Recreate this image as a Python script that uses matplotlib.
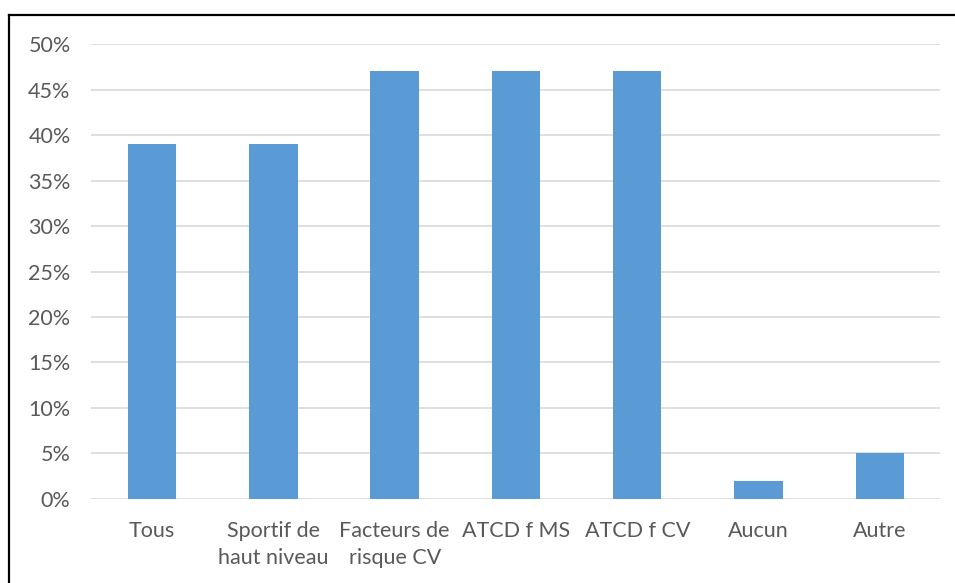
import matplotlib
matplotlib.use("Agg")
import matplotlib.pyplot as plt
from matplotlib.lines import Line2D
from matplotlib.ticker import MultipleLocator, FuncFormatter

# values (percent)
categories = ["Tous", "Sportif de\nhaut niveau", "Facteurs de\nrisque CV",
              "ATCD f MS", "ATCD f CV", "Aucun", "Autre"]
values = [39, 39, 47, 47, 47, 2, 5]

plt.rcParams['font.family'] = ['Lato', 'DejaVu Sans']

fig = plt.figure(figsize=(9.55, 5.83), dpi=100)
ax = fig.add_axes([0.0957, 0.1441, 0.8891, 0.7804])

x = range(len(categories))
ax.bar(x, values, width=0.4, color="#5B9BD5", zorder=3)

ax.set_xlim(-0.5, len(categories) - 0.5)
ax.set_ylim(0, 50)
ax.yaxis.set_major_locator(MultipleLocator(5))
ax.yaxis.set_major_formatter(FuncFormatter(lambda v, p: f"{v:.0f}%"))
ax.grid(axis="y", color="#D9D9D9", linewidth=1.2, zorder=0)

ax.set_xticks(list(x))
ax.set_xticklabels(categories, linespacing=1.45)
ax.tick_params(axis="both", length=0, labelsize=15.5, labelcolor="#595959")
ax.tick_params(axis="y", pad=15)
ax.tick_params(axis="x", pad=16)
for s in ax.spines.values():
    s.set_visible(False)

# outer chart border (only left and top visible in the crop)
W, H = 955, 583
fig.add_artist(Line2D([9 / W, 9 / W], [0, 1 - 15 / H], color="black", linewidth=1.6))
fig.add_artist(Line2D([9 / W, 1], [1 - 15 / H, 1 - 15 / H], color="black", linewidth=1.6))

fig.savefig("out.png", dpi=100)
